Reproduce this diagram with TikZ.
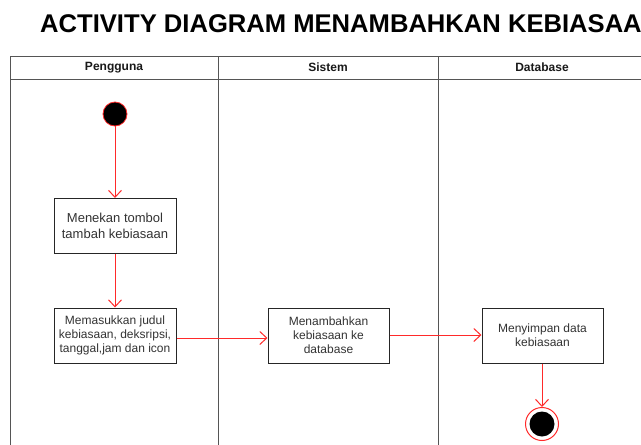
\documentclass[tikz,border=0pt]{standalone}
\usepackage{fontspec}
\setmainfont{Liberation Sans}
\usetikzlibrary{arrows.meta}
\definecolor{flowred}{HTML}{FF2A2A}
\definecolor{lanegray}{HTML}{555555}
\definecolor{txtgray}{HTML}{333333}
\tikzset{
  actbox/.style={draw=black!85, line width=1pt, fill=white, minimum width=122pt,
    minimum height=55pt, inner sep=0pt, align=center, text=txtgray,
    font=\fontsize{12}{14}\selectfont},
  lane/.style={draw=lanegray, line width=1pt},
  flow/.style={draw=flowred, line width=1pt,
    -{Straight Barb[length=7pt,width=13pt,line width=1pt]}},
  lanehead/.style={font=\bfseries\fontsize{12}{14}\selectfont, text=black!90}
}
\begin{document}
\begin{tikzpicture}[x=1pt,y=-1pt]
\useasboundingbox (0,0) rectangle (641,445);
\fill[white] (0,0) rectangle (641,445);

% title
\node[anchor=base west, inner sep=0pt, font=\bfseries\fontsize{25.6}{30}\selectfont]
  (title) at (40,32.5) {ACTIVITY DIAGRAM MENAMBAHKAN KEBIASAAN};

% swimlanes
\draw[lane] (700,56) -- (10,56) -- (10,460);
\draw[lane] (10,79) -- (700,79);
\draw[lane] (218,56) -- (218,460);
\draw[lane] (438,56) -- (438,460);
\node[lanehead] (h1) at (114,67.5) {Pengguna};
\node[lanehead] (h2) at (328,67.5) {Sistem};
\node[lanehead] (h3) at (542,67.5) {Database};

% start / end
\node[circle, fill=black, draw=flowred, line width=0.8pt, minimum size=24pt, inner sep=0pt] (start) at (115,114) {};
\node[circle, draw=flowred, line width=1pt, fill=white, minimum size=33pt, inner sep=0pt] (endo) at (542,424) {};
\node[circle, fill=black, minimum size=25pt, inner sep=0pt] (endi) at (542,424) {};

% activities
\node[actbox, font=\fontsize{13}{16.5}\selectfont] (a1) at (115,226) {Menekan tombol\\tambah kebiasaan};
\node[actbox] (a2) at (115,335.5) {Memasukkan judul\\kebiasaan, deksripsi,\\tanggal,jam dan icon};
\node[actbox, minimum width=121pt] (a3) at (328.5,335.5) {Menambahkan\\kebiasaan ke\\database};
\node[actbox, minimum width=121pt] (a4) at (542.5,335.5) {Menyimpan data\\kebiasaan};

% flows
\draw[flow] (start) -- (a1);
\draw[flow] (a1) -- (a2);
\draw[flow] (a2.east |- 0,338) -- (a3.west |- 0,338);
\draw[flow] (a3.east |- 0,335) -- (a4.west |- 0,335);
\draw[flow] (a4.south -| endo) -- (endo.north);
\end{tikzpicture}
\end{document}
